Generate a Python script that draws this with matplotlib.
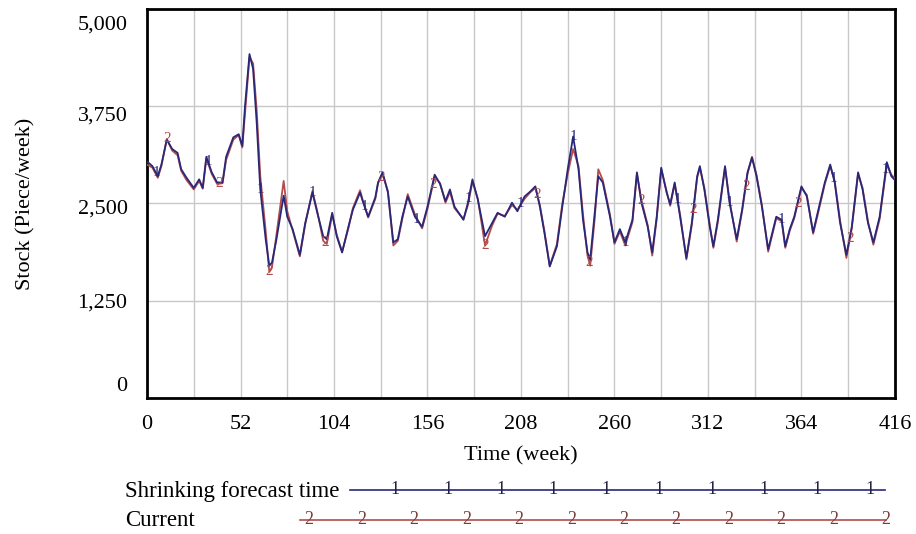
import numpy as np
import matplotlib
matplotlib.use("Agg")
import matplotlib.pyplot as plt
from matplotlib.transforms import ScaledTranslation

plt.rcParams['font.family'] = ['Liberation Serif', 'DejaVu Serif']

# weekly stock, read per run
weeks = [0, 3, 6, 8, 11, 14, 17, 19, 22, 26, 29, 31, 33, 36, 39, 42, 44, 48, 51, 53,
         54.5, 57, 59, 61, 63, 66, 68, 69.5, 72, 76, 78, 81, 85, 88, 92, 94.5, 98, 100,
         103, 105.5, 108.5, 112, 114.5, 118.5, 120, 123, 127, 128.5, 131, 134, 137, 139.5,
         142, 145, 149, 153, 156, 160, 163, 166, 168.5, 171, 176, 178.5, 181, 184, 188,
         192, 195, 199, 203, 206, 210, 213, 216, 218.5, 221, 224, 228, 231, 234, 237, 240,
         242.5, 245, 246.5, 249, 251, 253.5, 257.5, 260, 263, 266, 270, 272.5, 275, 278.5,
         281, 283.5, 286, 289, 291, 293.5, 296.5, 300, 303, 306, 307.5, 310, 313, 315,
         317.5, 321.5, 324, 328, 331, 334, 336.5, 339, 342, 345.5, 350, 353, 355, 357.5,
         360, 364, 367, 370.5, 373, 377, 380, 382.5, 385.5, 389, 392, 395.5, 398, 401,
         404, 407.5, 411.5, 414, 416]

stock_shrinking = [3040, 2980, 2850, 3000, 3320, 3200, 3150, 2940, 2830, 2700, 2810, 2700,
                   3100, 2900, 2770, 2770, 3100, 3350, 3390, 3240,
                   3750, 4420, 4230, 3540, 2680, 2040, 1700, 1740, 2040, 2600, 2330, 2170,
                   1840, 2250, 2640, 2400, 2080, 2040,
                   2380, 2080, 1870, 2200, 2420, 2640, 2530, 2330, 2580, 2770, 2900, 2640,
                   2000, 2040,
                   2330, 2590, 2330, 2200, 2460, 2870, 2750, 2530, 2680, 2460, 2290, 2510,
                   2810, 2550, 2080,
                   2250, 2380, 2330, 2510, 2400, 2590, 2650, 2720, 2460, 2130, 1690, 1950,
                   2460, 2940, 3360, 2940,
                   2290, 1870, 1780, 2380, 2850, 2770, 2330, 2000, 2170, 2000, 2290, 2900,
                   2510, 2200,
                   1870, 2330, 2960, 2640, 2490, 2770, 2330, 1800, 2250, 2850, 2980, 2680,
                   2200, 1950,
                   2290, 2980, 2510, 2040, 2420, 2900, 3090, 2850, 2460, 1910, 2330, 2290,
                   1950, 2170,
                   2330, 2720, 2590, 2130, 2380, 2770, 3000, 2770, 2250, 1840, 2200, 2900,
                   2680, 2250,
                   2000, 2330, 3030, 2850, 2800]

stock_current = [3000, 2960, 2830, 2980, 3330, 3180, 3120, 2920, 2800, 2680, 2790, 2690,
                 3080, 2880, 2750, 2760, 3060, 3320, 3380, 3220,
                 3650, 4380, 4300, 3700, 2850, 2150, 1620, 1680, 2100, 2790, 2400, 2150,
                 1820, 2230, 2660, 2420, 2020, 1980,
                 2360, 2100, 1880, 2180, 2440, 2670, 2540, 2320, 2560, 2760, 2880, 2660,
                 1960, 2020,
                 2300, 2620, 2360, 2180, 2430, 2850, 2760, 2510, 2650, 2440, 2300, 2480,
                 2780, 2560, 1960,
                 2220, 2370, 2340, 2480, 2420, 2560, 2640, 2700, 2480, 2150, 1700, 1980,
                 2500, 2880, 3200, 2980,
                 2360, 1830, 1700, 2300, 2940, 2800, 2360, 1980, 2140, 1960, 2260, 2880,
                 2540, 2220,
                 1830, 2300, 2940, 2660, 2470, 2750, 2360, 1780, 2220, 2830, 2960, 2700,
                 2230, 1930,
                 2260, 2960, 2540, 2010, 2400, 2880, 3100, 2870, 2480, 1880, 2310, 2270,
                 1930, 2150,
                 2310, 2700, 2610, 2110, 2350, 2750, 2980, 2790, 2280, 1800, 2180, 2880,
                 2700, 2270,
                 1970, 2300, 3000, 2870, 2820]

x_ticks = [0, 52, 104, 156, 208, 260, 312, 364, 416]
y_ticks = [0, 1250, 2500, 3750, 5000]
y_labels = ["0", "1,250", "2,500", "3,750", "5,000"]

label_weeks_1 = [5, 34, 63, 92, 121, 150, 179, 208, 237, 266, 295, 324, 353, 382, 411]
label_weeks_2 = [11, 40, 68, 99, 130, 159, 188, 217, 246, 275, 304, 333, 362, 391]

blue = '#28287a'
red = '#b44c4c'

fig = plt.figure(figsize=(9.16, 5.34), dpi=100)
ax = fig.add_axes([0.1605, 0.2547, 0.8165, 0.7285])

ax.plot(weeks, stock_current, color=red, lw=1.3, zorder=3)
ax.plot(weeks, stock_shrinking, color=blue, lw=1.3, zorder=4)

# series numbers along the curves
for w in label_weeks_2:
    ax.text(w, np.interp(w, weeks, stock_current), "2", color=red, fontsize=11,
            ha='center', va='center', zorder=5)
for w in label_weeks_1:
    ax.text(w, np.interp(w, weeks, stock_shrinking), "1", color=blue, fontsize=11,
            ha='center', va='center', zorder=5)

ax.set_xlim(0, 416)
ax.set_ylim(0, 5000)
ax.set_xticks(x_ticks)
ax.set_xticks(np.arange(0, 417, 26), minor=True)
ax.set_yticks(y_ticks)
ax.set_yticklabels(y_labels)
ax.grid(True, which='both', color='#c8c8c8', lw=1)
ax.tick_params(which='both', length=0, labelsize=16, pad=12)
ax.tick_params(axis='y', pad=14)
for s in ax.spines.values():
    s.set_linewidth(2)
    s.set_color('black')
ax.set_xlabel("Time (week)", fontsize=16, labelpad=9)
ax.set_ylabel("Stock (Piece/week)", fontsize=16, labelpad=30)

# end labels pulled inside the range
ylabs = ax.get_yticklabels()
shifts = [10, 0, -2, -5, -10]
for lab, dy in zip(ylabs, shifts):
    lab.set_transform(lab.get_transform() + ScaledTranslation(0, dy / 72, fig.dpi_scale_trans))

# legend strip below the axes, in pixel coordinates
leg = fig.add_axes([0, 0, 1, 1], zorder=-1)
leg.set_xlim(0, 916)
leg.set_ylim(534, 0)
leg.axis('off')
leg.text(125, 491, "Shrinking forecast time", fontsize=16.5, va='center', ha='left')
leg.text(125, 521, "Current", fontsize=16.5, va='center', ha='left')
leg.plot([350, 885], [490, 490], color=blue, lw=1.2)
leg.plot([300, 886], [520, 520], color=red, lw=1.2)
for xp in np.linspace(395, 870, 10):
    leg.text(xp, 490, "1", color='#222244', fontsize=13, ha='center', va='center')
for xp in np.linspace(309, 886, 12):
    leg.text(xp, 520, "2", color='#7a3a3a', fontsize=13, ha='center', va='center')

fig.savefig("out.png", dpi=100)
